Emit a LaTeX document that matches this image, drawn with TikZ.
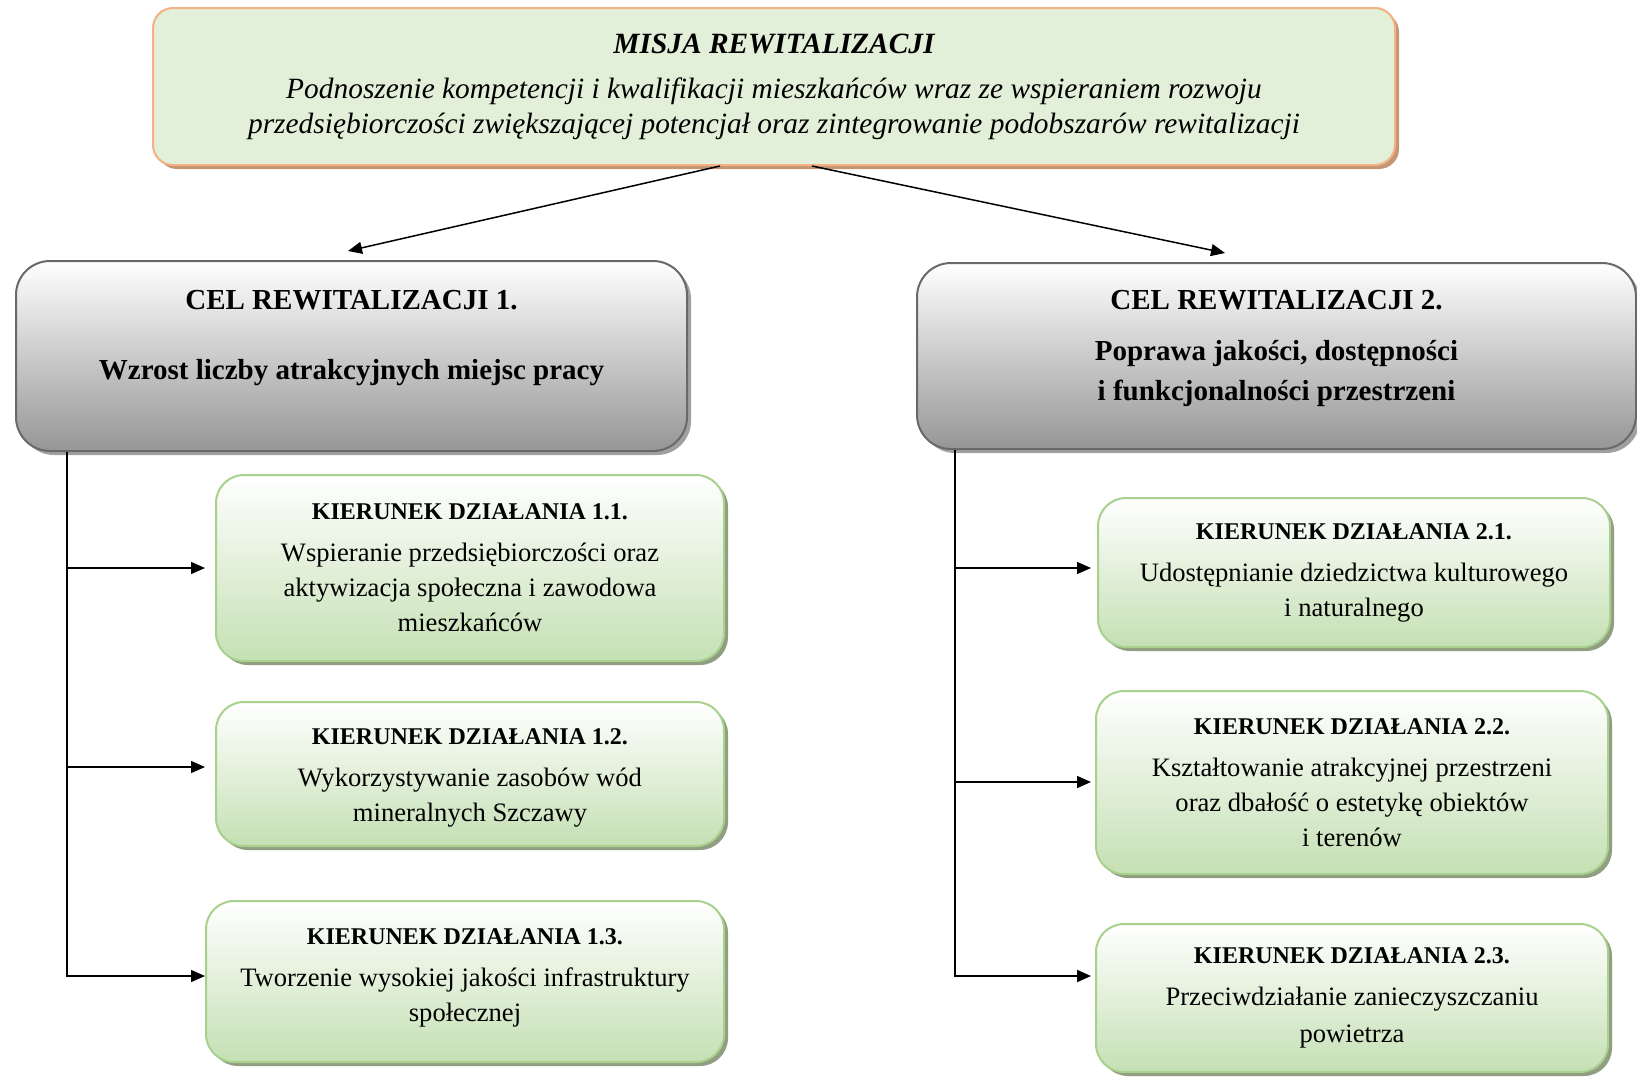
\documentclass[tikz,border=0pt]{standalone}
\usepackage{fontspec}
\setmainfont{Liberation Serif}
\usetikzlibrary{arrows.meta,shadows}
\definecolor{misjafill}{RGB}{226,239,217}
\definecolor{misjaline}{RGB}{244,177,131}
\definecolor{misjashadow}{RGB}{196,150,115}
\definecolor{celline}{RGB}{105,105,105}
\definecolor{celmid}{RGB}{205,205,205}
\definecolor{celbottom}{RGB}{150,150,150}
\definecolor{celshadow}{RGB}{160,160,160}
\definecolor{kierline}{RGB}{169,209,142}
\definecolor{kierbottom}{RGB}{197,224,180}
\definecolor{kiershadow}{RGB}{145,158,130}
\tikzstyle{misja}=[draw=misjaline, line width=1pt, fill=misjafill, rounded corners=10pt, align=center, font=\fontsize{14.7}{17.5}\selectfont\itshape, drop shadow={shadow xshift=2pt, shadow yshift=-2pt, fill=misjashadow, opacity=1}]
\tikzstyle{cel}=[draw=celline, line width=1pt, top color=white, middle color=celmid, bottom color=celbottom, rounded corners=17pt, align=center, font=\fontsize{14.5}{20}\selectfont\bfseries, drop shadow={shadow xshift=2pt, shadow yshift=-2pt, fill=celshadow, opacity=1}]
\tikzstyle{kier}=[draw=kierline, line width=1pt, top color=white, bottom color=kierbottom, rounded corners=14pt, align=center, font=\fontsize{13.3}{17.5}\selectfont, drop shadow={shadow xshift=2pt, shadow yshift=-2pt, fill=kiershadow, opacity=1}]
\tikzstyle{conn}=[line width=0.75pt, -{Triangle[length=7pt,width=6pt]}]
\newcommand{\kiertitle}[1]{{\fontsize{12}{17.5}\selectfont\bfseries #1}}
% invisible strut that pushes the text block up
\newcommand{\lifttext}[1]{\rule[-#1]{0pt}{0pt}}

\begin{document}
\begin{tikzpicture}[x=0.5pt, y=-0.5pt]
\useasboundingbox (0,0) rectangle (1637,1076);
\node[misja, minimum width=621pt, minimum height=78.5pt] at (774,86.5) (mis) {\textbf{MISJA REWITALIZACJI}\\[5pt]
  Podnoszenie kompetencji i kwalifikacji mieszkańców wraz ze wspieraniem rozwoju\\
  przedsiębiorczości zwiększającej potencjał oraz zintegrowanie podobszarów rewitalizacji};
\node[cel, minimum width=335.5pt, minimum height=95pt] at (351.5,356) (cel1) {CEL REWITALIZACJI 1.\\[15pt]
  Wzrost liczby atrakcyjnych miejsc pracy\lifttext{21pt}};
\node[cel, minimum width=359.5pt, minimum height=93pt] at (1276.5,356) (cel2) {CEL REWITALIZACJI 2.\\[5.5pt]
  Poprawa jakości, dostępności\\ i funkcjonalności przestrzeni\lifttext{10.5pt}};
\node[kier, minimum width=254pt, minimum height=93pt] at (470,568) (k11) {\kiertitle{KIERUNEK DZIAŁANIA 1.1.}\\[3.5pt]
  Wspieranie przedsiębiorczości oraz\\ aktywizacja społeczna i zawodowa\\ mieszkańców};
\node[kier, minimum width=254pt, minimum height=72pt] at (470,774) (k12) {\rule{0pt}{11.5pt}\kiertitle{KIERUNEK DZIAŁANIA 1.2.}\\[3.5pt]
  Wykorzystywanie zasobów wód\\ mineralnych Szczawy};
\node[kier, minimum width=259pt, minimum height=80.5pt] at (465,981.5) (k13) {\kiertitle{KIERUNEK DZIAŁANIA 1.3.}\\[3.5pt]
  Tworzenie wysokiej jakości infrastruktury\\ społecznej\lifttext{6.5pt}};
\node[kier, minimum width=256pt, minimum height=74.5pt] at (1354,572.5) (k21) {\kiertitle{KIERUNEK DZIAŁANIA 2.1.}\\[3.5pt]
  Udostępnianie dziedzictwa kulturowego\\ i naturalnego};
\node[kier, minimum width=256pt, minimum height=91.5pt] at (1352,782.5) (k22) {\kiertitle{KIERUNEK DZIAŁANIA 2.2.}\\[3.5pt]
  Kształtowanie atrakcyjnej przestrzeni\\ oraz dbałość o estetykę obiektów\\ i terenów};
\node[kier, minimum width=256pt, minimum height=74pt] at (1352,998) (k23) {\kiertitle{KIERUNEK DZIAŁANIA 2.3.}\\[3.5pt]
  Przeciwdziałanie zanieczyszczaniu\\[1pt] powietrza};
\coordinate (a1) at (348,251);
\coordinate (a2) at (1225,253);
\coordinate (l0) at ([xshift=26pt]cel1.south west);
\coordinate (r0) at ([xshift=19.5pt]cel2.south west);
\coordinate (t11) at (205,568);
\coordinate (t12) at (205,767);
\coordinate (t13) at (205,976);
\coordinate (t21) at (1091,568);
\coordinate (t22) at (1091,782);
\coordinate (t23) at (1091,976);
\draw[conn] ([xshift=-27pt]mis.south) -- (a1);
\draw[conn] ([xshift=19pt]mis.south) -- (a2);
\draw[conn] (l0) |- (t13);
\draw[conn] (t11 -| l0) -- (t11);
\draw[conn] (t12 -| l0) -- (t12);
\draw[conn, line width=1pt] (r0) |- (t23);
\draw[conn] (t21 -| r0) -- (t21);
\draw[conn] (t22 -| r0) -- (t22);
\end{tikzpicture}
\end{document}
